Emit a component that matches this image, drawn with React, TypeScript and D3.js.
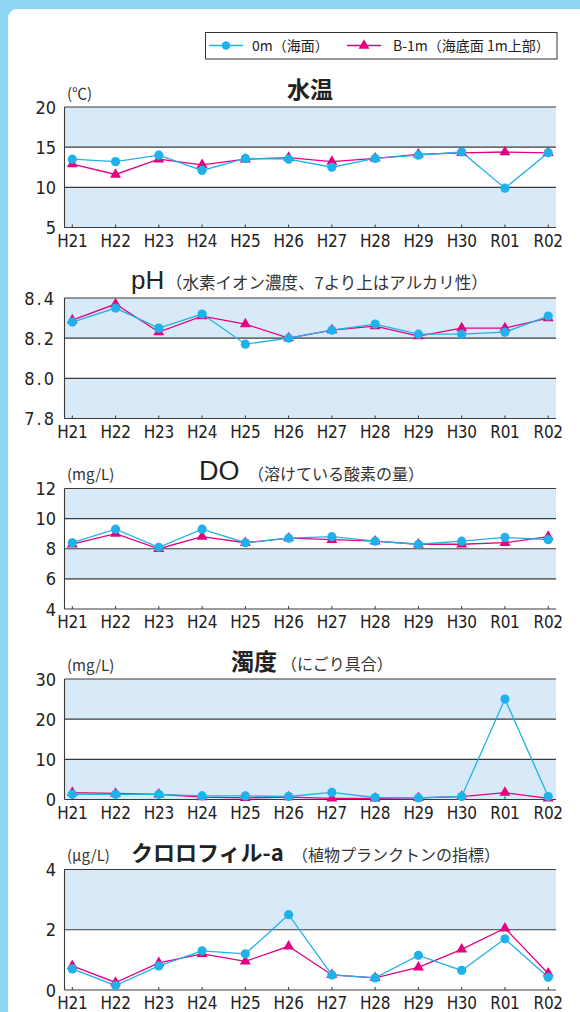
import React from 'react';
import * as d3 from 'd3';

const years = ['H21', 'H22', 'H23', 'H24', 'H25', 'H26', 'H27', 'H28', 'H29', 'H30', 'R01', 'R02'];

const tempSurface = [13.5, 13.2, 14.0, 12.1, 13.6, 13.5, 12.5, 13.6, 14.0, 14.4, 9.9, 14.3];
const tempBottom = [12.9, 11.6, 13.5, 12.8, 13.5, 13.7, 13.2, 13.6, 14.1, 14.3, 14.4, 14.3];
const tempTicks = [5, 10, 15, 20];

const phSurface = [8.28, 8.35, 8.25, 8.32, 8.17, 8.2, 8.24, 8.27, 8.22, 8.22, 8.23, 8.31];
const phBottom = [8.29, 8.37, 8.23, 8.31, 8.27, 8.2, 8.24, 8.26, 8.21, 8.25, 8.25, 8.3];
const phTicks = [7.8, 8.0, 8.2, 8.4];

const doSurface = [8.4, 9.3, 8.1, 9.3, 8.4, 8.7, 8.8, 8.5, 8.3, 8.5, 8.75, 8.6];
const doBottom = [8.3, 9.0, 8.0, 8.8, 8.4, 8.7, 8.6, 8.5, 8.3, 8.3, 8.4, 8.8];
const doTicks = [4, 6, 8, 10, 12];

const turbSurface = [1.3, 1.3, 1.3, 0.9, 0.9, 0.75, 1.75, 0.5, 0.4, 0.75, 25, 0.75];
const turbBottom = [1.7, 1.5, 1.3, 0.6, 0.4, 0.6, 0.3, 0.3, 0.4, 0.7, 1.7, 0.3];
const turbTicks = [0, 10, 20, 30];

const chlSurface = [0.7, 0.15, 0.8, 1.3, 1.2, 2.5, 0.5, 0.4, 1.15, 0.65, 1.7, 0.42];
const chlBottom = [0.8, 0.25, 0.9, 1.2, 0.95, 1.45, 0.5, 0.4, 0.75, 1.35, 2.05, 0.55];
const chlTicks = [0, 2, 4];

const legendLabels = ['0m（海面）', 'B-1m（海底面 1m上部）'];

const BLUE = '#1FB2EA';
const PINK = '#E5007F';
const BAND = '#D8E9F7';
const FRAME = '#8ED7F5';
const GRID = '#3a3a3a';
const CJK = '"Noto Sans CJK JP", "Noto Sans", sans-serif';
const NARROW = '"Liberation Sans Narrow", "DejaVu Sans Condensed", "Liberation Sans", sans-serif';

type PanelDef = {
  top: number;
  surface: number[];
  bottom: number[];
  ticks: number[];
  tickFmt: (v: number) => string;
  tickSpacing?: number;
  title: string;
  titleX: number;
  titleBold: boolean;
  titleSize: number;
  subtitle?: string;
  subtitleX?: number;
  subtitleSize?: number;
  unit?: string;
};

const panels: PanelDef[] = [
  { top: 107, surface: tempSurface, bottom: tempBottom, ticks: tempTicks, tickFmt: (v) => String(v),
    title: '水温', titleX: 287, titleBold: true, titleSize: 23, unit: '(℃)' },
  { top: 298, surface: phSurface, bottom: phBottom, ticks: phTicks, tickFmt: (v) => v.toFixed(1), tickSpacing: 2,
    title: 'pH', titleX: 131, titleBold: false, titleSize: 26, subtitle: '（水素イオン濃度、7より上はアルカリ性）', subtitleX: 166, subtitleSize: 16.5 },
  { top: 488.5, surface: doSurface, bottom: doBottom, ticks: doTicks, tickFmt: (v) => String(v),
    title: 'DO', titleX: 199, titleBold: false, titleSize: 27, subtitle: '（溶けている酸素の量）', subtitleX: 248, subtitleSize: 16, unit: '(mg/L)' },
  { top: 679, surface: turbSurface, bottom: turbBottom, ticks: turbTicks, tickFmt: (v) => String(v),
    title: '濁度', titleX: 231, titleBold: true, titleSize: 23, subtitle: '（にごり具合）', subtitleX: 281, subtitleSize: 16, unit: '(mg/L)' },
  { top: 869.5, surface: chlSurface, bottom: chlBottom, ticks: chlTicks, tickFmt: (v) => String(v),
    title: 'クロロフィル-a', titleX: 131, titleBold: true, titleSize: 22, subtitle: '（植物プランクトンの指標）', subtitleX: 292, subtitleSize: 16, unit: '(μg/L)' },
];

const PLOT_LEFT = 64.5;
const PLOT_RIGHT = 556;
const PLOT_H = 120.5;

const x = d3.scalePoint<string>().domain(years).range([PLOT_LEFT, PLOT_RIGHT]).padding(0.18);
const triPath = d3.symbol().type(d3.symbolTriangle).size(52)() as string;

function Panel({ p }: { p: PanelDef }) {
  const lo = p.ticks[0];
  const hi = p.ticks[p.ticks.length - 1];
  const y = d3.scaleLinear().domain([lo, hi]).range([p.top + PLOT_H, p.top]);
  const line = d3.line<number>().x((_, i) => x(years[i]) as number).y((d) => y(d));
  const bands = [] as { a: number; b: number; fill: string }[];
  for (let i = p.ticks.length - 1; i > 0; i--) {
    const k = p.ticks.length - 1 - i;
    bands.push({ a: p.ticks[i], b: p.ticks[i - 1], fill: k % 2 === 0 ? BAND : '#ffffff' });
  }
  const titleBase = p.top - 9;
  return (
    <g>
      {bands.map((b, i) => (
        <rect key={i} x={PLOT_LEFT} y={y(b.a)} width={PLOT_RIGHT - PLOT_LEFT} height={y(b.b) - y(b.a)} fill={b.fill} />
      ))}
      {p.ticks.slice(1).map((t) => (
        <line key={t} x1={PLOT_LEFT} x2={PLOT_RIGHT} y1={y(t)} y2={y(t)} stroke={GRID} strokeWidth={1.1} />
      ))}
      <line x1={PLOT_LEFT} x2={PLOT_LEFT} y1={p.top} y2={p.top + PLOT_H} stroke={GRID} strokeWidth={1.1} />
      <line x1={PLOT_LEFT} x2={PLOT_RIGHT} y1={p.top + PLOT_H} y2={p.top + PLOT_H} stroke={GRID} strokeWidth={1.1} />
      {years.map((yr) => (
        <g key={yr}>
          <line x1={x(yr)} x2={x(yr)} y1={p.top + PLOT_H} y2={p.top + PLOT_H - 3} stroke={GRID} strokeWidth={1} />
          <text x={x(yr)} y={p.top + PLOT_H + 19} textAnchor="middle" fontFamily={NARROW} fontSize={17}
            letterSpacing={-0.3} fill="#222">{yr}</text>
        </g>
      ))}
      {p.ticks.map((t) => (
        <text key={t} x={56} y={y(t) + 6.5} textAnchor="end" fontFamily={NARROW} fontSize={18} fill="#222"
          letterSpacing={p.tickSpacing || 0}>{p.tickFmt(t)}</text>
      ))}
      <path d={line(p.bottom) as string} fill="none" stroke={PINK} strokeWidth={1.3} />
      <path d={line(p.surface) as string} fill="none" stroke={BLUE} strokeWidth={1.3} />
      {p.bottom.map((v, i) => (
        <path key={'b' + i} d={triPath} transform={`translate(${x(years[i])},${y(v)})`} fill={PINK} />
      ))}
      {p.surface.map((v, i) => (
        <circle key={'s' + i} cx={x(years[i])} cy={y(v)} r={4.6} fill={BLUE} />
      ))}
      {p.unit && (
        <text x={67} y={titleBase + 0.5} fontFamily={CJK} fontSize={15} fill="#333">{p.unit}</text>
      )}
      <text x={p.titleX} y={titleBase} fontFamily={p.titleBold ? CJK : '"Liberation Sans", "Noto Sans", sans-serif'}
        fontWeight={p.titleBold ? 700 : 400} fontSize={p.titleSize} fill="#222">{p.title}</text>
      {p.subtitle && (
        <text x={p.subtitleX} y={titleBase} fontFamily={CJK} fontSize={p.subtitleSize || 15} fill="#333">{p.subtitle}</text>
      )}
    </g>
  );
}

export default function App() {
  return (
    <svg width={580} height={1012} viewBox="0 0 580 1012"
      style={{ position: 'absolute', left: 0, top: 0, display: 'block' }}>
      <rect x={0} y={0} width={580} height={1012} fill={FRAME} />
      <rect x={8} y={9} width={620} height={1100} rx={9} fill="#ffffff" />
      <g>
        <rect x={205.5} y={32.5} width={351.5} height={26.5} fill="#fff" stroke="#333" strokeWidth={1} />
        <line x1={209} x2={243} y1={45.5} y2={45.5} stroke={BLUE} strokeWidth={1.3} />
        <circle cx={226} cy={45.5} r={4.3} fill={BLUE} />
        <text x={252} y={51} fontFamily={CJK} fontSize={14} fill="#222">{legendLabels[0]}</text>
        <line x1={347} x2={381} y1={45.5} y2={45.5} stroke={PINK} strokeWidth={1.3} />
        <path d={triPath} transform="translate(364,45.5)" fill={PINK} />
        <text x={393} y={51} fontFamily={CJK} fontSize={14} fill="#222">{legendLabels[1]}</text>
      </g>
      {panels.map((p, i) => <Panel key={i} p={p} />)}
    </svg>
  );
}
